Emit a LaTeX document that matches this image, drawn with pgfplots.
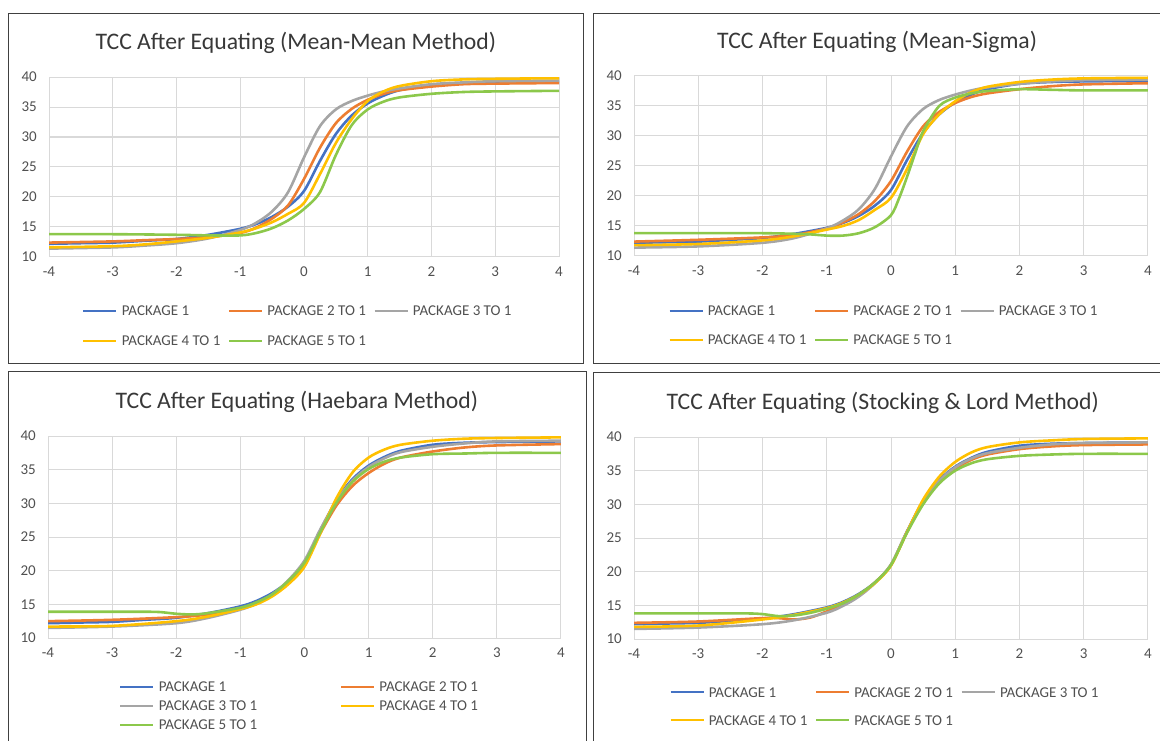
\documentclass[border=0pt]{standalone}
\usepackage{fontspec}
\setmainfont{Carlito}
\usepackage{pgfplots}
\pgfplotsset{compat=1.18}

\definecolor{c1}{HTML}{4472C4}
\definecolor{c2}{HTML}{ED7D31}
\definecolor{c3}{HTML}{A5A5A5}
\definecolor{c4}{HTML}{FFC000}
\definecolor{c5}{HTML}{8CC84B}
\definecolor{gridc}{HTML}{D9D9D9}
\definecolor{labc}{HTML}{505050}
\definecolor{titc}{HTML}{383838}

\newcommand{\lgb}[2]{\makebox[#1][l]{#2}}

\pgfplotsset{
  tcc/.style={
    scale only axis, anchor=south west,
    xmin=-4, xmax=4, ymin=10, ymax=40,
    xtick={-4,-3,...,4}, xticklabels={-4,-3,-2,-1,0,1,2,3,4},
    ytick={10,15,...,40}, yticklabels={10,15,20,25,30,35,40},
    grid=major, major grid style={draw=gridc, line width=1pt},
    axis line style={draw=none}, major tick length=0pt,
    tick label style={font=\fontsize{15}{18}\selectfont, text=labc, inner sep=0pt},
    xticklabel style={anchor=north, yshift=-10pt},
    yticklabel style={anchor=east, xshift=-12pt},
    title style={font=\fontsize{23.7}{28}\selectfont, text=titc, anchor=base, inner sep=0pt},
    legend style={draw=none, fill=none, anchor=west,
      font=\fontsize{15}{18}\selectfont, text=labc,
      nodes={inner sep=0pt, text height=10pt, text depth=0pt},
      /tikz/every odd column/.append style={column sep=4pt}},
    legend image code/.code={\draw[##1] (0pt,0pt) -- (33pt,0pt);},
    every axis plot/.append style={line width=2.6pt, smooth},
    cycle list={{c1},{c2},{c3},{c4},{c5}},
  }
}

% PACKAGE 1 is the base form, the same in every panel
\newcommand{\pone}{\addplot coordinates {(-4,12.2)(-3.5,12.3)(-3,12.4)(-2.5,12.7)(-2,13.0)(-1.5,13.7)(-1,14.7)(-0.75,15.5)(-0.5,16.7)(-0.25,18.4)(0,21.0)(0.25,26.0)(0.5,30.5)(0.75,33.6)(1,35.6)(1.25,36.9)(1.5,37.8)(2,38.7)(2.5,39.0)(3,39.1)(4,39.2)};}

\begin{document}
\begin{tikzpicture}[x=1pt,y=1pt]
\useasboundingbox (0,0) rectangle (1160,740);
\clip (0,0) rectangle (1160,740);
\draw[line width=1pt, black!75] (8,726) rectangle (583,376);
\draw[line width=1pt, black!75] (593,726) rectangle (1170,376);
\draw[line width=1pt, black!75] (8,368) rectangle (586,-10);
\draw[line width=1pt, black!75] (593,367) rectangle (1170,-10);

% Mean-Mean
\begin{axis}[tcc, at={(49pt,483pt)}, width=510pt, height=180pt,
  title={TCC After Equating (Mean-Mean Method)},
  title style={at={(0.484,1)}, yshift=21pt},
  legend columns=3, legend style={at={(0.0588,-0.3833)}, row sep=20pt}]
\pone
\addplot coordinates {(-4,12.4)(-3,12.6)(-2.5,12.8)(-2,13.0)(-1.5,13.3)(-1,14.0)(-0.75,14.9)(-0.5,16.4)(-0.25,18.6)(0,23.0)(0.25,28.2)(0.5,32.3)(0.75,34.7)(1,36.2)(1.25,37.2)(1.5,37.8)(2,38.4)(2.5,38.8)(3,38.9)(4,39.0)};
\addplot coordinates {(-4,11.4)(-3,11.6)(-2.5,11.9)(-2,12.3)(-1.5,13.1)(-1,14.5)(-0.75,15.7)(-0.5,17.6)(-0.25,20.8)(0,26.6)(0.25,31.8)(0.5,34.6)(0.75,36.0)(1,36.9)(1.25,37.6)(1.5,38.1)(2,38.8)(2.5,39.1)(3,39.3)(4,39.4)};
\addplot coordinates {(-4,11.6)(-3,11.8)(-2.5,12.1)(-2,12.6)(-1.5,13.2)(-1,14.1)(-0.75,14.8)(-0.5,15.8)(-0.25,17.2)(0,19.0)(0.25,23.8)(0.5,29.0)(0.75,33.0)(1,36.0)(1.25,37.6)(1.5,38.5)(2,39.3)(2.5,39.6)(3,39.7)(4,39.8)};
\addplot coordinates {(-4,13.8)(-3,13.8)(-2,13.7)(-1.5,13.6)(-1,13.6)(-0.75,14.0)(-0.5,14.8)(-0.25,16.1)(0,18.0)(0.25,20.8)(0.5,27.0)(0.75,32.0)(1,34.6)(1.25,35.9)(1.5,36.6)(2,37.2)(2.5,37.5)(3,37.6)(4,37.7)};
\legend{\lgb{106pt}{PACKAGE 1},\lgb{106pt}{PACKAGE 2 TO 1},\lgb{106pt}{PACKAGE 3 TO 1},\lgb{106pt}{PACKAGE 4 TO 1},\lgb{106pt}{PACKAGE 5 TO 1}}
\end{axis}

% Mean-Sigma
\begin{axis}[tcc, at={(634pt,484pt)}, width=514pt, height=180pt,
  title={TCC After Equating (Mean-Sigma)},
  title style={at={(0.473,1)}, yshift=21pt},
  legend columns=3, legend style={at={(0.0603,-0.386)}, row sep=19pt}]
\pone
\addplot coordinates {(-4,12.4)(-3,12.7)(-2,13.1)(-1.5,13.5)(-1,14.6)(-0.75,15.6)(-0.5,17.0)(-0.25,19.2)(0,22.5)(0.25,27.4)(0.5,31.6)(0.75,34.0)(1,35.5)(1.25,36.5)(1.5,37.1)(2,37.8)(2.5,38.3)(3,38.6)(4,38.8)};
\addplot coordinates {(-4,11.4)(-3,11.6)(-2,12.2)(-1.5,13.0)(-1,14.6)(-0.75,15.9)(-0.5,17.8)(-0.25,21.2)(0,26.6)(0.25,31.6)(0.5,34.5)(0.75,36.0)(1,36.9)(1.25,37.6)(1.5,38.1)(2,38.7)(2.5,39.1)(3,39.3)(4,39.4)};
\addplot coordinates {(-4,11.8)(-3,12.0)(-2,12.6)(-1.5,13.3)(-1,14.4)(-0.75,15.0)(-0.5,16.0)(-0.25,17.7)(0,19.7)(0.25,24.5)(0.5,30.3)(0.75,33.6)(1,35.8)(1.25,37.3)(1.5,38.2)(2,39.0)(2.5,39.4)(3,39.6)(4,39.7)};
\addplot coordinates {(-4,13.8)(-3,13.8)(-2,13.8)(-1.5,13.7)(-1.25,13.6)(-1,13.4)(-0.75,13.4)(-0.5,13.8)(-0.25,14.8)(0,16.8)(0.125,19.6)(0.25,23.2)(0.375,27.1)(0.5,30.8)(0.75,35.0)(1,36.4)(1.25,37.1)(1.5,37.5)(2,37.8)(2.5,37.7)(3,37.6)(4,37.6)};
\legend{\lgb{106pt}{PACKAGE 1},\lgb{106pt}{PACKAGE 2 TO 1},\lgb{106pt}{PACKAGE 3 TO 1},\lgb{106pt}{PACKAGE 4 TO 1},\lgb{106pt}{PACKAGE 5 TO 1}}
\end{axis}

% Haebara
\begin{axis}[tcc, at={(48pt,102pt)}, width=513pt, height=202pt,
  title={TCC After Equating (Haebara Method)},
  title style={at={(0.485,1)}, yshift=22pt},
  legend columns=2, legend style={at={(0.1325,-0.3366)}, row sep=9pt}]
\pone
\addplot coordinates {(-4,12.5)(-3,12.7)(-2,13.1)(-1.5,13.5)(-1,14.4)(-0.75,15.2)(-0.5,16.4)(-0.25,18.3)(0,21.0)(0.25,25.6)(0.5,29.7)(0.75,32.6)(1,34.5)(1.25,35.9)(1.5,36.8)(2,37.7)(2.5,38.3)(3,38.6)(4,38.8)};
\addplot coordinates {(-4,11.5)(-3,11.7)(-2,12.2)(-1.5,13.0)(-1,14.2)(-0.75,15.1)(-0.5,16.5)(-0.25,18.6)(0,21.5)(0.25,26.2)(0.5,30.4)(0.75,33.4)(1,35.4)(1.25,36.7)(1.5,37.6)(2,38.4)(2.5,38.9)(3,39.2)(4,39.3)};
\addplot coordinates {(-4,11.7)(-3,11.8)(-2,12.5)(-1.5,13.2)(-1,14.3)(-0.75,15.0)(-0.5,16.2)(-0.25,18.0)(0,20.6)(0.25,25.6)(0.5,30.8)(0.75,34.6)(1,36.8)(1.25,38.0)(1.5,38.7)(2,39.3)(2.5,39.6)(3,39.7)(4,39.8)};
\addplot coordinates {(-4,13.9)(-3,13.9)(-2.5,13.9)(-2.25,13.85)(-2,13.6)(-1.75,13.5)(-1.5,13.7)(-1,14.5)(-0.75,15.3)(-0.5,16.5)(-0.25,18.5)(0,21.2)(0.25,25.8)(0.5,30.1)(0.75,33.2)(1,35.1)(1.25,36.2)(1.5,36.8)(2,37.3)(2.5,37.4)(3,37.5)(4,37.5)};
\legend{\lgb{181pt}{PACKAGE 1},\lgb{181pt}{PACKAGE 2 TO 1},\lgb{181pt}{PACKAGE 3 TO 1},\lgb{181pt}{PACKAGE 4 TO 1},\lgb{181pt}{PACKAGE 5 TO 1}}
\end{axis}

% Stocking & Lord
\begin{axis}[tcc, at={(634pt,101pt)}, width=514pt, height=202pt,
  title={TCC After Equating (Stocking \& Lord Method)},
  title style={at={(0.484,1)}, yshift=22pt},
  legend columns=3, legend style={at={(0.0623,-0.3317)}, row sep=18pt}]
\pone
\addplot coordinates {(-4,12.4)(-3,12.6)(-2,13.1)(-1.75,13.1)(-1.5,12.9)(-1.25,13.2)(-1,14.1)(-0.75,15.1)(-0.5,16.5)(-0.25,18.4)(0,21.0)(0.25,25.9)(0.5,30.3)(0.75,33.3)(1,35.3)(1.25,36.6)(1.5,37.4)(2,38.2)(2.5,38.6)(3,38.8)(4,38.9)};
\addplot coordinates {(-4,11.5)(-3,11.7)(-2,12.2)(-1.5,12.8)(-1,13.9)(-0.75,14.9)(-0.5,16.3)(-0.25,18.3)(0,21.1)(0.25,26.0)(0.5,30.4)(0.75,33.5)(1,35.5)(1.25,36.8)(1.5,37.6)(2,38.4)(2.5,38.9)(3,39.1)(4,39.2)};
\addplot coordinates {(-4,11.8)(-3,12.0)(-2,12.9)(-1.5,13.6)(-1,14.6)(-0.75,15.4)(-0.5,16.6)(-0.25,18.3)(0,20.9)(0.25,25.9)(0.5,30.7)(0.75,34.1)(1,36.3)(1.25,37.7)(1.5,38.5)(2,39.2)(2.5,39.5)(3,39.7)(4,39.8)};
\addplot coordinates {(-4,13.8)(-3,13.8)(-2.25,13.8)(-2,13.7)(-1.75,13.4)(-1.5,13.5)(-1.25,13.9)(-1,14.5)(-0.75,15.3)(-0.5,16.6)(-0.25,18.4)(0,21.0)(0.25,25.8)(0.5,30.0)(0.75,33.1)(1,35.0)(1.25,36.1)(1.5,36.7)(2,37.2)(2.5,37.4)(3,37.5)(4,37.5)};
\legend{\lgb{106pt}{PACKAGE 1},\lgb{106pt}{PACKAGE 2 TO 1},\lgb{106pt}{PACKAGE 3 TO 1},\lgb{106pt}{PACKAGE 4 TO 1},\lgb{106pt}{PACKAGE 5 TO 1}}
\end{axis}
\end{tikzpicture}
\end{document}
